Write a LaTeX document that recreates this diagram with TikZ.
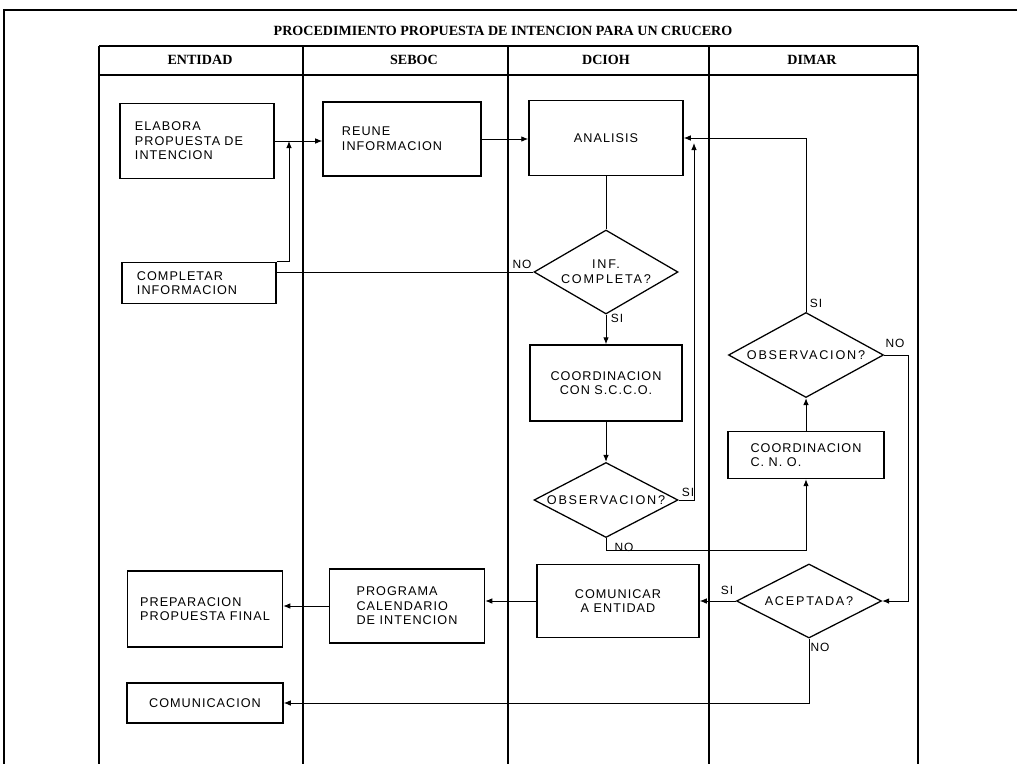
\documentclass[tikz,border=0pt]{standalone}
\usepackage{fontspec}
\newfontfamily\fuentecaja[LetterSpace=8]{Liberation Sans}
\newfontfamily\fuentedecision[LetterSpace=14]{Liberation Sans}
\newfontfamily\fuentetitulo{Liberation Serif}
\usetikzlibrary{shapes.geometric,arrows.meta}

\tikzset{
  caja/.style={draw,line width=1pt,align=left,inner sep=2pt,font=\fuentecaja\fontsize{9}{10.4}\selectfont},
  decision/.style={draw,diamond,line width=0.9pt,aspect=2,inner sep=0pt,align=center,font=\fuentedecision\fontsize{9}{10.4}\selectfont},
  flecha/.style={line width=0.7pt,-{Latex[length=5pt,width=4pt]}},
  linea/.style={line width=0.7pt},
  etiqueta/.style={font=\fuentecaja\fontsize{8.5}{10}\selectfont,inner sep=1pt},
  carril/.style={line width=0.9pt},
  encabezado/.style={font=\fuentetitulo\bfseries\fontsize{10}{12}\selectfont}
}

\begin{document}
\begin{tikzpicture}[x=0.025cm,y=-0.025cm]
    \useasboundingbox (0,0) rectangle (1019,764);

    % Marco y titulo
    \draw[carril] (1017,10) -- (4,10) -- (4,764);
    \node[encabezado] (titulo) at (503,31) {PROCEDIMIENTO PROPUESTA DE INTENCION PARA UN CRUCERO};

    % Carriles
    \draw[carril] (99,46) -- (918,46);
    \draw[carril] (99,75) -- (918,75);
    \foreach \x in {99,303,508,709,918} {
        \draw[carril] (\x,46) -- (\x,764);
    }
    \foreach \x/\nombre in {200/ENTIDAD,414/SEBOC,606/DCIOH,812/DIMAR} {
        \node[encabezado] (h\nombre) at (\x,60) {\nombre};
    }

    % Cajas
    \node[caja,minimum height=1.875cm,inner xsep=0.375cm,text width=3.1cm] (elabora) at (197,141) {ELABORA\\PROPUESTA DE\\INTENCION};
    \node[caja,minimum height=1.85cm,inner xsep=0.475cm,text width=3cm] (reune) at (402,139) {REUNE\\INFORMACION};
    \node[caja,minimum height=1.025cm,inner xsep=0.375cm,text width=3.1cm] (completar) at (199,283) {COMPLETAR\\INFORMACION};
    \node[caja,align=center,minimum width=3.85cm,minimum height=1.875cm] (analisis) at (606,138) {ANALISIS};
    \node[decision,minimum width=3.6cm,minimum height=2.1cm] (infcompleta) at (606,272) {INF.\\COMPLETA?};
    \node[caja,align=center,minimum width=3.8cm,minimum height=1.9cm] (coordscco) at (606,383) {COORDINACION\\CON S.C.C.O.};
    \node[decision,minimum width=3.6cm,minimum height=1.875cm] (observa1) at (606,500) {OBSERVACION?};
    \node[caja,minimum width=3.9cm,minimum height=1.175cm] (coordcno) at (806,455) {COORDINACION\\C. N. O.};
    \node[decision,minimum width=3.875cm,minimum height=2.125cm] (observa2) at (806,355) {OBSERVACION?};
    \node[decision,minimum width=3.625cm,minimum height=1.85cm] (aceptada) at (809,601) {ACEPTADA?};
    \node[caja,align=center,minimum width=4.05cm,minimum height=1.825cm] (comunicar) at (618,601) {COMUNICAR\\A ENTIDAD};
    \node[caja,minimum width=3.875cm,minimum height=1.85cm] (programa) at (407,606) {PROGRAMA\\CALENDARIO\\DE INTENCION};
    \node[caja,minimum width=3.875cm,minimum height=1.9cm] (preparacion) at (205,609) {PREPARACION\\PROPUESTA FINAL};
    \node[caja,align=center,minimum width=3.9cm,minimum height=1cm] (comunicacion) at (205,703) {COMUNICACION};

    % Conectores
    \coordinate (union) at (289,141);
    \coordinate (retorno) at (694,143);
    \draw[flecha] (elabora.east) -- (elabora.east -| reune.west);
    \draw[flecha] (completar.north east) -| (union);
    \draw[linea] (infcompleta.west) -- (infcompleta.west -| completar.east);
    \draw[flecha] (reune.east) -- (reune.east -| analisis.west);
    \draw[linea] (analisis.south) -- (infcompleta.north);
    \draw[flecha] (infcompleta.south) -- (coordscco.north);
    \draw[flecha] (coordscco.south) -- (observa1.north);
    \draw[flecha] (observa1.east) -| (retorno);
    \draw[flecha] (observa2.north) |- (analisis.east);
    \draw[flecha] (observa1.south) -- ++(0,12) -| (coordcno.south);
    \draw[flecha] (coordcno.north) -- (observa2.south);
    \draw[flecha] (observa2.east) -- ++(24,0) |- (aceptada.east);
    \draw[flecha] (aceptada.west) -- (comunicar.east);
    \draw[flecha] (aceptada.south) |- (comunicacion.east);
    \draw[flecha] (comunicar.west) -- (comunicar.west -| programa.east);
    \draw[flecha] (programa.west) -- (programa.west -| preparacion.east);

    % Etiquetas
    \node[etiqueta] (no1) at (522,264) {NO};
    \node[etiqueta] (si1) at (617,318) {SI};
    \node[etiqueta] (si2) at (688,492) {SI};
    \node[etiqueta] (no2) at (624,547) {NO};
    \node[etiqueta] (si3) at (816,303) {SI};
    \node[etiqueta] (no3) at (895,343) {NO};
    \node[etiqueta] (si4) at (727,590) {SI};
    \node[etiqueta] (no4) at (820,647) {NO};
\end{tikzpicture}
\end{document}
